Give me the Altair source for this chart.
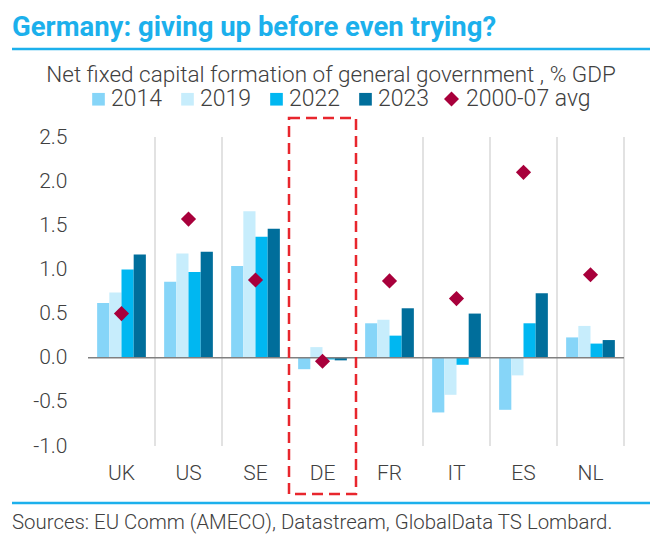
import altair as alt
import pandas as pd

# ---- data ----
countries = ["UK", "US", "SE", "DE", "FR", "IT", "ES", "NL"]
years = ["2014", "2019", "2022", "2023"]
v2014 = [0.62, 0.86, 1.04, -0.13, 0.39, -0.62, -0.59, 0.23]
v2019 = [0.74, 1.18, 1.66, 0.12, 0.43, -0.42, -0.20, 0.36]
v2022 = [1.00, 0.97, 1.37, -0.02, 0.25, -0.08, 0.39, 0.16]
v2023 = [1.17, 1.20, 1.46, -0.03, 0.56, 0.50, 0.73, 0.20]
avg_0007 = [0.50, 1.57, 0.88, -0.04, 0.87, 0.67, 2.10, 0.94]
avg_label = "2000-07 avg"
y_ticks = [-1.0, -0.5, 0.0, 0.5, 1.0, 1.5, 2.0, 2.5]
highlight = ["DE"]
no_grid_after = ["SE", "DE"]  # boundaries covered by the dashed box

title_text = "Germany: giving up before even trying?"
subtitle_text = "Net fixed capital formation of general government , % GDP"
source_text = "Sources: EU Comm (AMECO), Datastream, GlobalData TS Lombard."

# ---- styles ----
year_colors = ["#86d5f8", "#c7edfc", "#00b7f1", "#006e9b"]
avg_color = "#a8003b"
BLUE = "#1cb0ec"
TXT = "#404040"
FONT = "Roboto"
W, H = 536, 309

rows = []
for yr, vals in zip(years, [v2014, v2019, v2022, v2023]):
    for c, v in zip(countries, vals):
        rows.append({"country": c, "year": yr, "value": v})
bars_df = pd.DataFrame(rows)
avg_df = pd.DataFrame({"country": countries, "avg": avg_0007, "series": [avg_label] * len(countries)})
grid_df = pd.DataFrame({"country": countries})
box_df = pd.DataFrame({"country": highlight})

x_scale = alt.Scale(domain=countries, paddingInner=0, paddingOuter=0)
x_axis = alt.Axis(title=None, labelAngle=0, domain=False, ticks=False, grid=False,
                  labelPadding=16, labelFontSize=21, labelColor=TXT, labelFont=FONT,
                  labelFontWeight=300)
y_scale = alt.Scale(domain=[-1.0, 2.5], nice=False)
y_axis = alt.Axis(title=None, values=y_ticks, format=".1f",
                  labelExpr="replace(datum.label, '\u2212', '-')",
                  domain=False, ticks=False, grid=False, labelPadding=21,
                  labelFontSize=21, labelColor=TXT, labelFont=FONT, labelFontWeight=300)

legend_common = dict(title=None, orient="none", direction="horizontal",
                     labelFontSize=23, labelFont=FONT, labelFontWeight=300,
                     labelColor=TXT, symbolStrokeWidth=0, padding=0, legendY=-49.5)

grid = alt.Chart(grid_df).transform_filter(
    alt.FieldOneOfPredicate(field="country", oneOf=[c for c in countries if c not in no_grid_after])
).mark_rule(color="#d9d9d9", strokeWidth=1.5).encode(
    x=alt.X("country:N", sort=countries, scale=x_scale, axis=x_axis, bandPosition=1),
    y=alt.value(0), y2=alt.value(H),
)

bars = alt.Chart(bars_df).mark_bar().encode(
    x=alt.X("country:N", sort=countries, scale=x_scale, axis=x_axis),
    xOffset=alt.XOffset("year:N", sort=years,
                        scale=alt.Scale(domain=years, paddingInner=0, paddingOuter=0.75)),
    y=alt.Y("value:Q", scale=y_scale, axis=y_axis),
    color=alt.Color("year:N", sort=years, scale=alt.Scale(domain=years, range=year_colors),
                    legend=alt.Legend(legendX=-1, symbolType="square",
                                      symbolSize=160, labelOffset=1, columnPadding=13,
                                      **legend_common)),
)

zero = alt.Chart(pd.DataFrame({"v": [0.0]})).mark_rule(color="#808080", strokeWidth=1.5).encode(
    y=alt.Y("v:Q", scale=y_scale, axis=y_axis), x=alt.value(0), x2=alt.value(W),
)

points = alt.Chart(avg_df).mark_point(filled=True, size=230, opacity=1, color=avg_color).encode(
    x=alt.X("country:N", sort=countries, scale=x_scale, axis=x_axis),
    y=alt.Y("avg:Q", scale=y_scale, axis=y_axis),
    shape=alt.Shape("series:N", scale=alt.Scale(domain=[avg_label], range=["diamond"]),
                    legend=alt.Legend(legendX=352, symbolSize=225,
                                      symbolFillColor=avg_color, labelOffset=3,
                                      **legend_common)),
)

box = alt.Chart(box_df).mark_rect(fill="#ffffff", fillOpacity=0, stroke="#e8262d",
                                  strokeWidth=2.5, strokeDash=[11, 6]).encode(
    x=alt.X("country:N", sort=countries, scale=x_scale, axis=x_axis),
    y=alt.value(-19), y2=alt.value(357),
)


def text_layer(txt, x, y, size, weight, color, align="left"):
    return alt.Chart(pd.DataFrame({"t": [txt]})).mark_text(
        align=align, baseline="alphabetic", fontSize=size, fontWeight=weight,
        font=FONT, color=color,
    ).encode(x=alt.value(x), y=alt.value(y), text="t:N")


def hline(y):
    return alt.Chart(pd.DataFrame({"t": [0]})).mark_rule(color=BLUE, strokeWidth=2.5).encode(
        x=alt.value(-76), x2=alt.value(562), y=alt.value(y))


title = text_layer(title_text, -76, -101, 27.5, "bold", BLUE)
subtitle = text_layer(subtitle_text, 243, -55, 22.5, 300, TXT, align="center")
source = text_layer(source_text, -76, 392, 20.4, 300, TXT)

chart = alt.layer(
    grid, bars, zero, points, box, title, subtitle, source, hline(-88), hline(366)
).properties(
    width=W, height=H,
    autosize=alt.AutoSizeParams(type="none"),
    padding={"left": 80, "top": 129, "right": 30, "bottom": 93},
    background="#ffffff",
).configure_view(stroke=None)

chart.save("out.html", embed_options={"renderer": "svg", "actions": False})
